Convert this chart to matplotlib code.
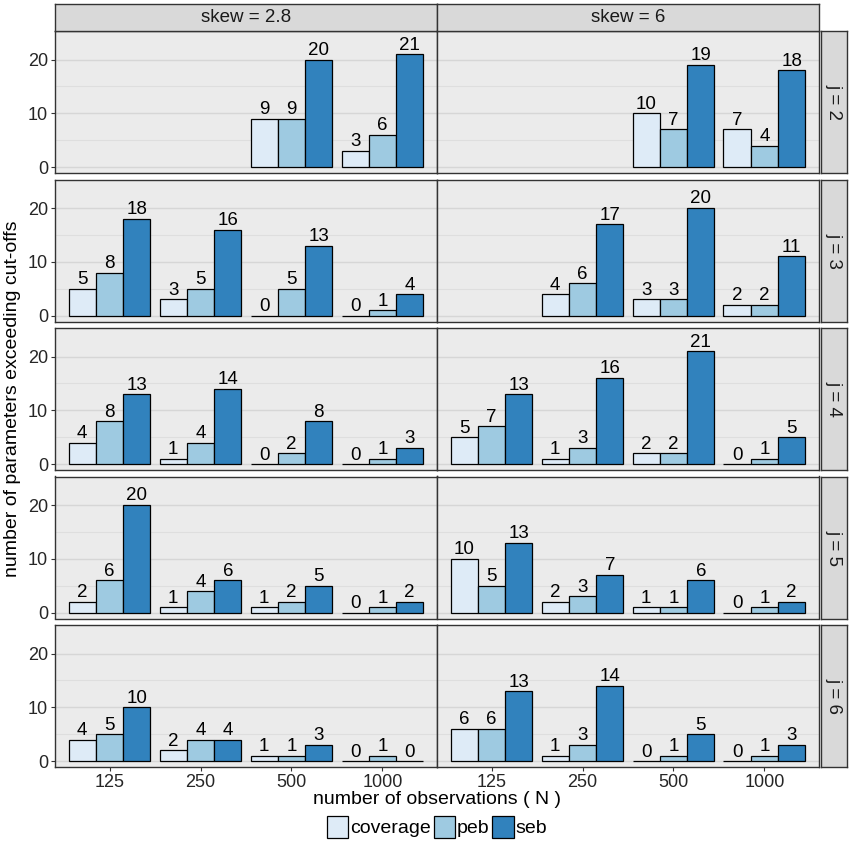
import numpy as np
import matplotlib
matplotlib.use("Agg")
import matplotlib.pyplot as plt
from matplotlib.patches import Patch

plt.rcParams['font.family'] = ['Liberation Sans', 'DejaVu Sans']

n_obs = ["125", "250", "500", "1000"]
skews = ["skew = 2.8", "skew = 6"]
j_levels = ["j = 2", "j = 3", "j = 4", "j = 5", "j = 6"]
methods = ["coverage", "peb", "seb"]
colors = ["#DEEBF7", "#9ECAE1", "#3182BD"]

nan = np.nan
# rows = j levels, columns = N
coverage_28 = [[nan, nan, 9, 3], [5, 3, 0, 0], [4, 1, 0, 0], [2, 1, 1, 0], [4, 2, 1, 0]]
peb_28 = [[nan, nan, 9, 6], [8, 5, 5, 1], [8, 4, 2, 1], [6, 4, 2, 1], [5, 4, 1, 1]]
seb_28 = [[nan, nan, 20, 21], [18, 16, 13, 4], [13, 14, 8, 3], [20, 6, 5, 2], [10, 4, 3, 0]]
coverage_6 = [[nan, nan, 10, 7], [nan, 4, 3, 2], [5, 1, 2, 0], [10, 2, 1, 0], [6, 1, 0, 0]]
peb_6 = [[nan, nan, 7, 4], [nan, 6, 3, 2], [7, 3, 2, 1], [5, 3, 1, 1], [6, 3, 1, 1]]
seb_6 = [[nan, nan, 19, 18], [nan, 17, 20, 11], [13, 16, 21, 5], [13, 7, 6, 2], [13, 14, 5, 3]]

data = {
    0: [coverage_28, peb_28, seb_28],
    1: [coverage_6, peb_6, seb_6],
}

W, H = 851, 844
fig = plt.figure(figsize=(W / 100, H / 100), dpi=100)

def px_axes(x0, y0, x1, y1):
    # pixel box (top-left origin) -> figure axes
    return fig.add_axes([x0 / W, 1 - y1 / H, (x1 - x0) / W, (y1 - y0) / H])

col_x = [(55, 437), (437, 819)]
row_h = 142
row_gap = 6.5
row_top0 = 31
border = "#333333"
strip_bg = "#D9D9D9"
panel_bg = "#EBEBEB"

x = np.arange(len(n_obs))
width = 0.3

for r, jl in enumerate(j_levels):
    top = row_top0 + r * (row_h + row_gap)
    for c in range(2):
        ax = px_axes(col_x[c][0], top, col_x[c][1], top + row_h)
        ax.set_facecolor(panel_bg)
        for k in range(3):
            vals = np.array(data[c][k][r], dtype=float)
            xs = x + (k - 1) * width
            ok = ~np.isnan(vals)
            ax.bar(xs[ok], vals[ok], width=width, color=colors[k],
                   edgecolor="black", linewidth=0.9, zorder=3)
            for xx, v in zip(xs[ok], vals[ok]):
                ax.text(xx, v + 0.1, str(int(v)), ha="center", va="bottom",
                        fontsize=13.5, color="black", zorder=4)
        ax.set_xlim(-0.6, 3.6)
        ax.set_ylim(-1.1, 25.3)
        ax.set_yticks([0, 10, 20])
        ax.set_yticks([5, 15], minor=True)
        ax.grid(axis="y", which="major", color="#D6D6D6", linewidth=1.0, zorder=0)
        ax.grid(axis="y", which="minor", color="#DEDEDE", linewidth=0.8, zorder=0)
        ax.set_axisbelow(True)
        ax.tick_params(which="minor", length=0)
        ax.tick_params(which="major", length=3, color=border, labelsize=13,
                       labelcolor="#262626", pad=2)
        ax.set_xticks(x)
        if r == len(j_levels) - 1:
            ax.set_xticklabels(n_obs)
        else:
            ax.set_xticklabels([])
            ax.tick_params(axis="x", length=0)
        if c == 1:
            ax.set_yticklabels([])
            ax.tick_params(axis="y", length=0)
        for s in ax.spines.values():
            s.set_color(border)
            s.set_linewidth(1.0)

        if r == 0:
            sax = px_axes(col_x[c][0], 4, col_x[c][1], top)
            sax.set_facecolor(strip_bg)
            sax.set_xticks([])
            sax.set_yticks([])
            for s in sax.spines.values():
                s.set_color(border)
                s.set_linewidth(1.0)
            sax.text(0.5, 0.5, skews[c], ha="center", va="center",
                     fontsize=13.5, color="#1A1A1A", transform=sax.transAxes)

    rax = px_axes(821, top, 847, top + row_h)
    rax.set_facecolor(strip_bg)
    rax.set_xticks([])
    rax.set_yticks([])
    for s in rax.spines.values():
        s.set_color(border)
        s.set_linewidth(1.0)
    rax.text(0.5, 0.5, jl, ha="center", va="center", rotation=-90,
             fontsize=13.5, color="#1A1A1A", transform=rax.transAxes)

fig.text(437 / W, 1 - 800 / H, "number of observations ( N )", ha="center",
         va="center", fontsize=14)
fig.text(13 / W, 1 - 399 / H, "number of parameters exceeding cut-offs",
         ha="center", va="center", rotation=90, fontsize=14)

handles = [Patch(facecolor=col, edgecolor="black", linewidth=0.9) for col in colors]
fig.legend(handles, methods, loc="center", bbox_to_anchor=(437 / W, 1 - 827 / H),
           ncol=3, frameon=False, fontsize=14, handlelength=1.1,
           handleheight=1.4, handletextpad=0.1, columnspacing=0.15,
           borderaxespad=0)

fig.savefig("out.png", dpi=100)
